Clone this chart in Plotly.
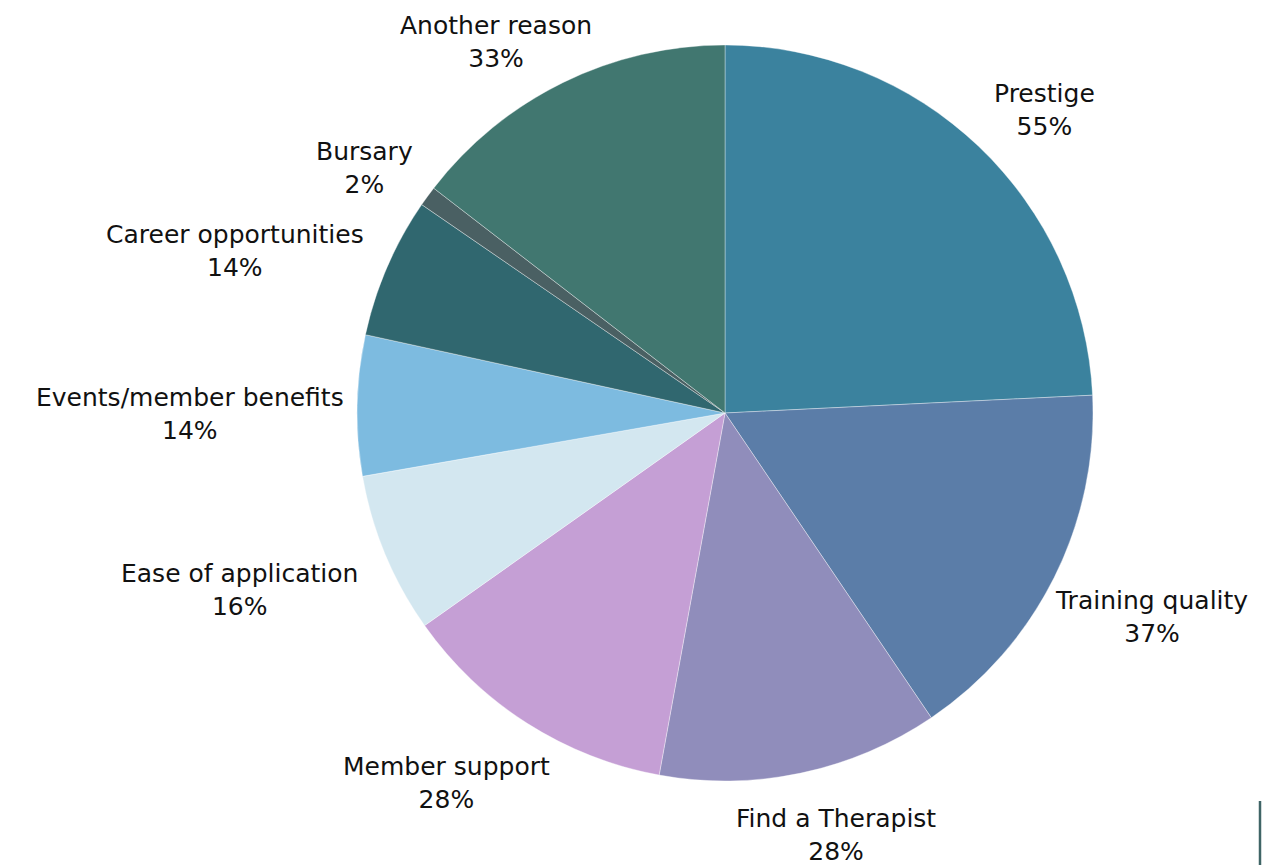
import math
import plotly.graph_objects as go

labels = ["Prestige", "Training quality", "Find a Therapist", "Member support",
          "Ease of application", "Events/member benefits", "Career opportunities",
          "Bursary", "Another reason"]
values = [55, 37, 28, 28, 16, 14, 14, 2, 33]
colors = ["#3b829e", "#5b7da8", "#908dbb", "#c59fd5", "#d3e7f0",
          "#7dbbe0", "#30676f", "#4a6063", "#417770"]

W, H = 1262, 865
CX, CY, R = 725, 413, 368      # pie centre / radius in pixels (from top-left)
FONT = "DejaVu Sans"
FS = 25
GAP = 20

fig = go.Figure(go.Pie(
    labels=labels,
    values=values,
    textinfo="none",
    sort=False,
    direction="clockwise",
    rotation=0,
    marker=dict(colors=colors, line=dict(color="rgba(255,255,255,0.6)", width=0.6)),
    domain=dict(x=[(CX - R) / W, (CX + R) / W],
                y=[(H - CY - R) / H, (H - CY + R) / H]),
    showlegend=False,
    hoverinfo="label+value",
))

# outside labels, placed along each slice's mid-angle
total = sum(values)
cum = 0
for lab, v in zip(labels, values):
    mid = (cum + v / 2) / total * 2 * math.pi
    cum += v
    ux, uy = math.sin(mid), -math.cos(mid)   # screen direction, y down
    hw = 0.535 * FS * max(len(lab), len(f"{v}%")) / 2
    hh = 1.3 * FS
    sx = max(-1, min(1, ux * 1.4))
    sy = max(-1, min(1, uy * 1.4))
    px = CX + (R + GAP) * ux + hw * sx
    py = CY + (R + GAP) * uy + hh * sy + 10
    px = max(hw + 4, min(W - hw - 4, px))
    fig.add_annotation(
        x=px / W, y=1 - py / H, xref="paper", yref="paper",
        text=f"{lab}<br>{v}%", showarrow=False, align="center",
        xanchor="center", yanchor="middle",
        font=dict(family=FONT, size=FS, color="#111111"),
    )

# thin vertical rule at the bottom right edge
fig.add_shape(type="line", xref="paper", yref="paper",
              x0=1260 / W, x1=1260 / W, y0=0.0, y1=1 - 801 / H,
              line=dict(color="#3f6466", width=2.5))

fig.update_layout(
    width=W, height=H,
    margin=dict(l=0, r=0, t=0, b=0),
    paper_bgcolor="white",
    plot_bgcolor="white",
)

fig.write_html("out.html", config={"displayModeBar": False},
               post_script="document.body.style.margin='0px';")
